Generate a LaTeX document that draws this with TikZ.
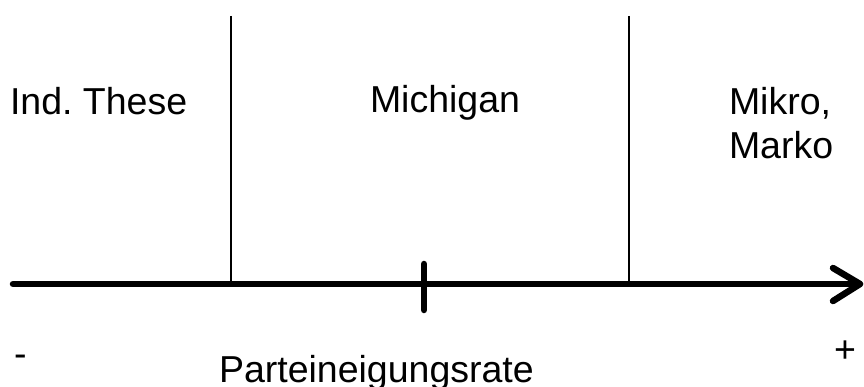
\documentclass[tikz,border=0pt]{standalone}
\usepackage{fontspec}
\setmainfont{Liberation Sans}
\frenchspacing
\begin{document}
\begin{tikzpicture}[x=1pt,y=-1pt,
  lbl/.style={inner sep=0pt,outer sep=0pt,anchor=base west,font=\fontsize{37.5}{44}\selectfont},
  axisline/.style={line width=6.5pt,line cap=round,line join=round},
  divider/.style={line width=2pt}]
\useasboundingbox (0,0) rectangle (864,387);
\coordinate (L) at (13,284);
\coordinate (R) at (860,284);
\coordinate (A1) at (833,268);
\coordinate (A2) at (833,301);
\coordinate (V1t) at (231,16);
\coordinate (V1b) at (231,284);
\coordinate (V2t) at (629,16);
\coordinate (V2b) at (629,284);
\coordinate (Tt) at (424,264);
\coordinate (Tb) at (424,310);
\draw[divider] (V1t) -- (V1b);
\draw[divider] (V2t) -- (V2b);
\draw[axisline] (L) -- (R);
\draw[axisline] (A1) -- (R) -- (A2);
\draw[axisline] (Tt) -- (Tb);
\node[lbl] (ind) at (10,115) {Ind.\ These};
\node[lbl] (mich) at (370,113) {Michigan};
\node[lbl] (mikro) at (729,115) {Mikro,};
\node[lbl] (marko) at (729,159) {Marko};
\node[lbl] (rate) at (219,382) {Parteineigungsrate};
\node[lbl] (minus) at (14,366) {-};
\node[lbl] (plus) at (834,362) {+};
\end{tikzpicture}
\end{document}
